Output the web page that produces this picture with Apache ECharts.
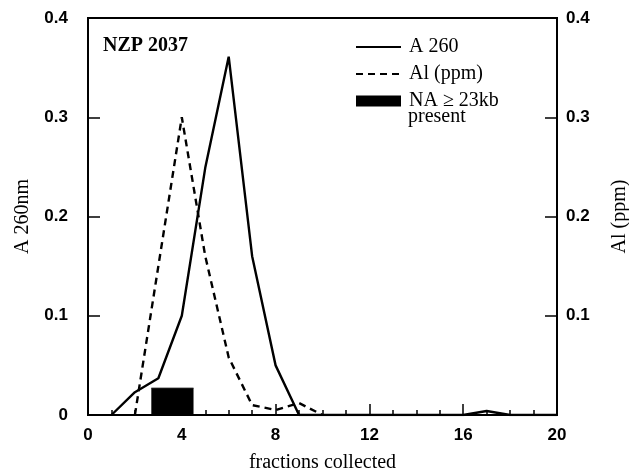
<!DOCTYPE html>
<html>
<head>
<meta charset="utf-8">
<script src="https://cdn.jsdelivr.net/npm/echarts@6/dist/echarts.min.js"></script>
<style>
html, body { margin: 0; padding: 0; background: #fff; }
#chart { width: 629px; height: 472px; }
</style>
</head>
<body>
<div id="chart"></div>
<script>
// fractions and readings
var a260X = [1, 2, 3, 4, 5, 6, 7, 8, 9, 10, 11, 12, 13, 14, 15, 16, 17, 18, 19, 20];
var a260Y = [0, 0.023, 0.037, 0.1, 0.249, 0.361, 0.16, 0.05, 0, 0, 0, 0, 0, 0, 0, 0, 0.004, 0, 0, 0];
var alX = [2, 3, 4, 5, 6, 7, 8, 9, 10];
var alY = [0, 0.15, 0.3, 0.16, 0.058, 0.01, 0.005, 0.012, 0];
// fractions where NA >= 23kb was found (start, end) and bar height
var naRange = [2.7, 4.5];
var naHeight = 0.027;
var xTicks = [0, 4, 8, 12, 16, 20];
var yTicks = [0, 0.1, 0.2, 0.3, 0.4];

var serif = 'Liberation Serif';
var sans = 'Liberation Sans';

function pairs(xs, ys) {
    return xs.map(function (x, i) { return [x, ys[i]]; });
}

var chart = echarts.init(document.getElementById('chart'));

var tickLabel = { fontFamily: sans, fontSize: 17, fontWeight: 'bold', color: '#000' };
var nameText = { fontFamily: serif, fontSize: 20, color: '#000' };

var option = {
    animation: false,
    grid: {
        left: 88, right: 72, top: 18, bottom: 57,
        outerBoundsMode: 'none',
        show: true, borderColor: '#000', borderWidth: 2
    },
    legend: {
        orient: 'vertical',
        left: 350, top: 32,
        itemWidth: 45, itemHeight: 11, itemGap: 7,
        textStyle: { fontFamily: serif, fontSize: 20, color: '#000', padding: [0, 0, 0, 3] },
        data: [
            { name: 'A 260', itemStyle: { opacity: 0 } },
            { name: 'Al (ppm)', itemStyle: { opacity: 0 } },
            { name: 'NA ≥ 23kb', icon: 'rect' }
        ]
    },
    graphic: [
        { type: 'text', left: 103, top: 36,
          style: { text: 'NZP 2037', font: 'bold 20px ' + serif, fill: '#000' } },
        { type: 'text', left: 408, top: 107,
          style: { text: 'present', font: '20px ' + serif, fill: '#000' } }
    ],
    xAxis: {
        type: 'value', min: xTicks[0], max: xTicks[xTicks.length - 1], interval: 4,
        name: 'fractions collected', nameLocation: 'middle', nameGap: 38,
        nameTextStyle: nameText,
        axisLine: { lineStyle: { color: '#000', width: 2 } },
        axisTick: { inside: true, length: 11, lineStyle: { color: '#000', width: 1.5 } },
        minorTick: { show: true, splitNumber: 4, length: 5, lineStyle: { color: '#000', width: 1.5 } },
        splitLine: { show: false },
        axisLabel: Object.assign({ margin: 12 }, tickLabel)
    },
    yAxis: [{
        type: 'value', min: yTicks[0], max: yTicks[yTicks.length - 1], interval: 0.1,
        position: 'left',
        name: 'A 260nm', nameLocation: 'middle', nameGap: 55,
        nameTextStyle: nameText,
        axisLine: { show: true, lineStyle: { color: '#000', width: 2 } },
        axisTick: { show: true, inside: true, length: 12, lineStyle: { color: '#000', width: 1.5 } },
        splitLine: { show: false },
        axisLabel: Object.assign({ margin: 20 }, tickLabel)
    }, {
        type: 'value', min: yTicks[0], max: yTicks[yTicks.length - 1], interval: 0.1,
        position: 'right',
        name: 'Al (ppm)', nameLocation: 'middle', nameGap: 53,
        nameTextStyle: nameText,
        axisLine: { show: true, lineStyle: { color: '#000', width: 2 } },
        axisTick: { show: true, inside: true, length: 12, lineStyle: { color: '#000', width: 1.5 } },
        splitLine: { show: false },
        axisLabel: Object.assign({
            margin: 9,
            formatter: function (v) { return v === 0 ? '' : v; }
        }, tickLabel)
    }],
    series: [{
        name: 'A 260', type: 'line', yAxisIndex: 0,
        data: pairs(a260X, a260Y),
        symbol: 'none',
        lineStyle: { color: '#000', width: 2.4 },
        itemStyle: { color: '#000' }
    }, {
        name: 'Al (ppm)', type: 'line', yAxisIndex: 1,
        data: pairs(alX, alY),
        symbol: 'none',
        lineStyle: { color: '#000', width: 2.4, type: [7, 5] },
        itemStyle: { color: '#000' }
    }, {
        name: 'NA ≥ 23kb', type: 'line', yAxisIndex: 0,
        data: [[naRange[0], naHeight], [naRange[1], naHeight]],
        symbol: 'none',
        lineStyle: { color: '#000', width: 1 },
        areaStyle: { color: '#000', opacity: 1 },
        itemStyle: { color: '#000' }
    }]
};

chart.setOption(option);
</script>
</body>
</html>
